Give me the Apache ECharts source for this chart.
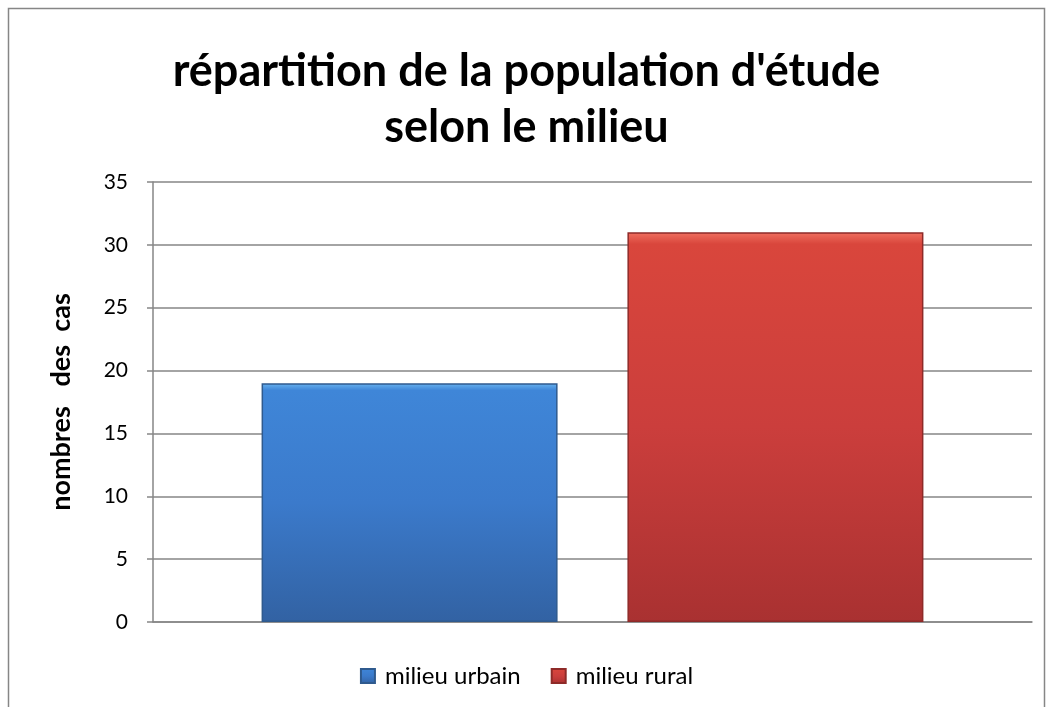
<!DOCTYPE html>
<html>
<head>
<meta charset="utf-8">
<script src="https://cdn.jsdelivr.net/npm/echarts@6/dist/echarts.min.js"></script>
<style>
  html, body { margin: 0; padding: 0; background: #fff; }
  #chart { width: 1053px; height: 707px; }
</style>
</head>
<body>
<div id="chart"></div>
<script>
// Données : nombre de cas selon le milieu
const categories = ['milieu'];
const seriesNames = ['milieu urbain', 'milieu rural'];
const urbainValues = [19];
const ruralValues = [31];
const yTicks = { min: 0, max: 35, interval: 5 };

const FONT = 'Lato, "Open Sans", sans-serif';

function barGradient(top, hi, mid, bottom) {
  return new echarts.graphic.LinearGradient(0, 0, 0, 1, [
    { offset: 0, color: hi },
    { offset: 0.03, color: top },
    { offset: 0.5, color: mid },
    { offset: 1, color: bottom }
  ]);
}

const chart = echarts.init(document.getElementById('chart'), null, { renderer: 'canvas' });
chart.setOption({
  backgroundColor: '#ffffff',
  animation: false,
  title: {
    text: "répartition de la population d'étude\nselon le milieu",
    left: 'center',
    top: 38,
    textStyle: {
      fontFamily: FONT,
      fontWeight: 'bold',
      fontSize: 45,
      lineHeight: 56,
      color: '#000'
    }
  },
  legend: {
    data: seriesNames,
    bottom: 14,
    left: 'center',
    itemWidth: 14,
    itemHeight: 14,
    itemGap: 30,
    icon: 'rect',
    textStyle: { fontFamily: FONT, fontSize: 24, color: '#000', padding: [0, 0, 0, 5] }
  },
  grid: { left: 153, right: 21, top: 182, bottom: 85 },
  xAxis: {
    type: 'category',
    data: categories,
    axisLine: { show: true, lineStyle: { color: '#868686', width: 1.5 } },
    axisTick: { show: false },
    axisLabel: { show: false }
  },
  yAxis: {
    type: 'value',
    min: yTicks.min,
    max: yTicks.max,
    interval: yTicks.interval,
    name: 'nombres   des  cas',
    nameLocation: 'middle',
    nameGap: 78,
    nameTextStyle: { fontFamily: FONT, fontWeight: 'bold', fontSize: 27, color: '#000' },
    axisLine: { show: true, lineStyle: { color: '#868686', width: 1.5 } },
    axisTick: { show: true, length: 6, inside: false, lineStyle: { color: '#868686', width: 1.5 } },
    axisLabel: { fontFamily: FONT, fontSize: 21, color: '#000', margin: 25 },
    splitLine: { show: true, lineStyle: { color: '#868686', width: 1.5 } }
  },
  series: [
    {
      name: seriesNames[0],
      type: 'bar',
      data: urbainValues,
      barWidth: 296,
      barGap: '23.6%',
      itemStyle: {
        color: barGradient('#3f86d8', '#6ab4f0', '#3b7acb', '#3262a3'),
        borderColor: '#2f5a8e',
        borderWidth: 1.5
      }
    },
    {
      name: seriesNames[1],
      type: 'bar',
      data: ruralValues,
      barWidth: 296,
      barGap: '23.6%',
      itemStyle: {
        color: barGradient('#d9463c', '#f07060', '#cb3e3c', '#a93131'),
        borderColor: '#8e2a28',
        borderWidth: 1.5
      }
    }
  ],
  graphic: [
    {
      type: 'rect',
      shape: { x: 8.5, y: 8.5, width: 1036, height: 720 },
      style: { fill: 'none', stroke: '#868686', lineWidth: 1.5 },
      silent: true
    }
  ]
});
</script>
</body>
</html>
